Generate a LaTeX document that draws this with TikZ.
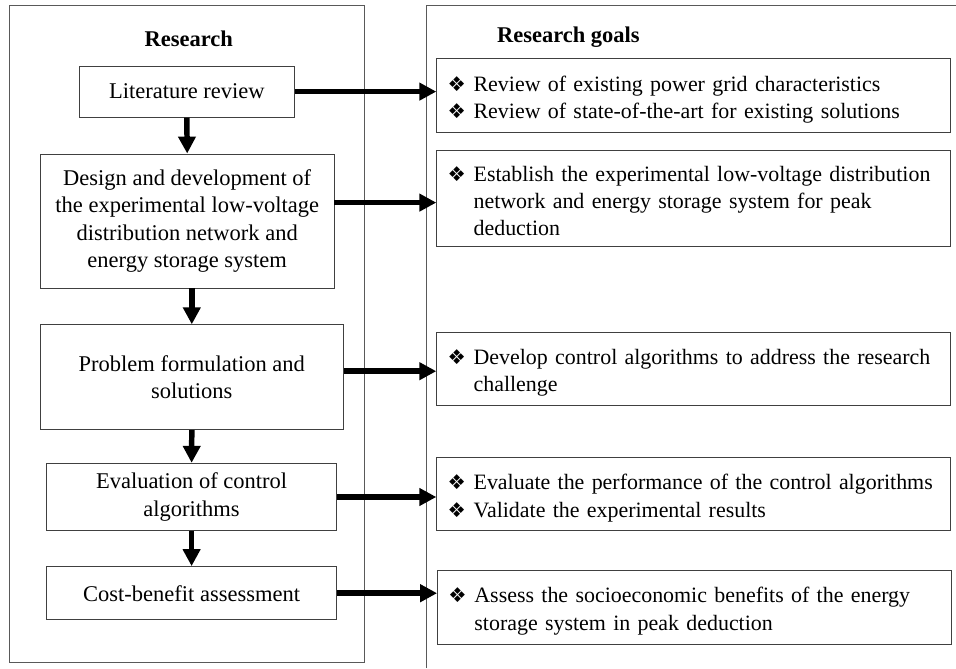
\documentclass[tikz,border=0pt]{standalone}
\usepackage{fontspec}
\setmainfont{Liberation Serif}
\newfontfamily\dingfont{DejaVu Sans}
\usepackage{tikz}
\usetikzlibrary{arrows.meta}
\newcommand{\dia}{{\dingfont\fontsize{14.5}{14.5}\selectfont ❖}}
\newcommand{\gitem}[1]{\par\lineskiplimit=-4pt\noindent\makebox[18.5pt][l]{\dia}\begin{tabular}[t]{@{}l@{}}#1\end{tabular}\par}

\begin{document}
\begin{tikzpicture}[
  stage/.style={draw=black!75,line width=0.7pt,align=center,inner sep=2pt,font=\fontsize{16}{19.4}\selectfont},
  goal/.style={draw=black!75,line width=0.7pt,align=left,text width=12.3cm,inner xsep=0.27cm,inner ysep=2pt,font=\fontsize{15.6}{19.4}\selectfont},
  flow/.style={line width=3.9pt,-{Triangle[length=12pt,width=12pt]}}]
  \useasboundingbox (0,0) rectangle (23.9,16.7);
  % frames
  \draw[black!65,line width=0.7pt] (0.225,0.13) rectangle (9.12,16.575);
  \draw[black!65,line width=0.7pt] (10.665,0) -- (10.665,16.575) -- (23.9,16.575);
  \node[font=\fontsize{16}{19.4}\selectfont\bfseries] (tres) at (4.72,15.72){Research};
  \node[font=\fontsize{16}{19.4}\selectfont\bfseries] (tgoal) at (14.21,15.76){Research goals};

  % research steps
  \node[stage,minimum width=5.39cm,minimum height=1.275cm] (lit) at (4.67,14.41){Literature review};
  \node[stage,minimum width=7.34cm,minimum height=3.35cm] (design) at (4.68,11.175){Design and development of\\the experimental low-voltage\\distribution network and\\energy storage system};
  \node[stage,minimum width=7.575cm,minimum height=2.62cm] (prob) at (4.795,7.27){Problem formulation and\\solutions};
  \node[stage,minimum width=7.25cm,minimum height=1.685cm] (eval) at (4.79,4.275){Evaluation of control\\algorithms};
  \node[stage,minimum width=7.25cm,minimum height=1.33cm] (cost) at (4.79,1.87){Cost-benefit assessment};

  % goals
  \node[goal,minimum height=1.84cm] (g1) at (17.34,14.32){\gitem{Review of existing power grid characteristics}\gitem{Review of state-of-the-art for existing solutions}};
  \node[goal,minimum height=2.23cm] (g2) at (17.34,11.73){\gitem{Establish the experimental low-voltage distribution\\network and energy storage system for peak\\deduction}};
  \node[goal,minimum height=1.81cm] (g3) at (17.34,7.48){\gitem{Develop control algorithms to address the research\\challenge}};
  \node[goal,minimum height=1.835cm] (g4) at (17.34,4.35){\gitem{Evaluate the performance of the control algorithms}\gitem{Validate the experimental results}};
  \node[goal,minimum height=1.85cm] (g5) at (17.36,1.525){\gitem{Assess the socioeconomic benefits of the energy\\storage system in peak deduction}};

  % arrows
  \draw[flow] (lit.south) -- (design.north);
  \draw[flow] (design.south -| prob.north) -- (prob.north);
  \draw[flow] (prob.south) -- (eval.north);
  \draw[flow] (eval.south) -- (cost.north);
  \draw[flow] (lit.east) -- (lit.east -| g1.west);
  \draw[flow] ([yshift=0.46cm]design.east) coordinate (p2) -- (p2 -| g2.west);
  \draw[flow] ([yshift=0.15cm]prob.east) coordinate (p3) -- (p3 -| g3.west);
  \draw[flow] (eval.east) -- (eval.east -| g4.west);
  \draw[flow] (cost.east) -- (cost.east -| g5.west);
\end{tikzpicture}
\end{document}
